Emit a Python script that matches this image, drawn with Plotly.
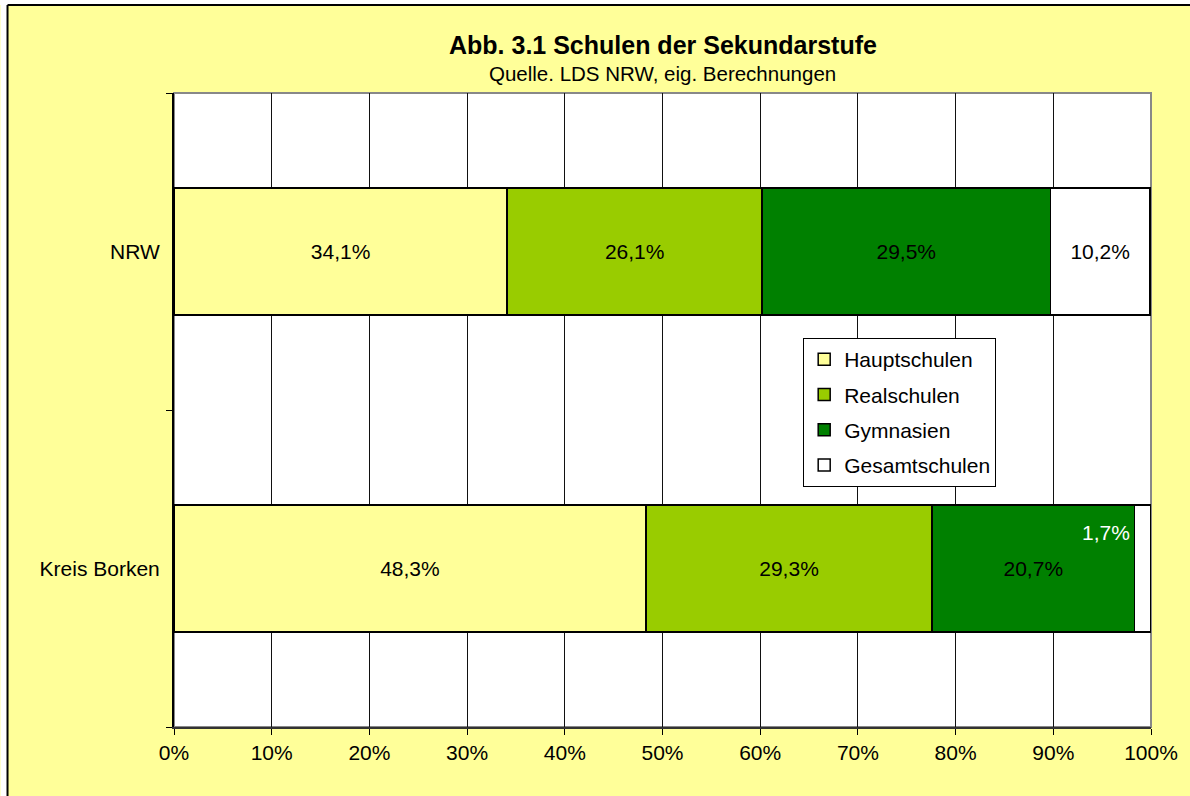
import plotly.graph_objects as go

# data
regions = ["Kreis Borken", "NRW"]
school_types = ["Hauptschulen", "Realschulen", "Gymnasien", "Gesamtschulen"]
share = {
    "Hauptschulen": [48.3, 34.1],
    "Realschulen": [29.3, 26.1],
    "Gymnasien": [20.7, 29.5],
    "Gesamtschulen": [1.7, 10.2],
}
colors = {
    "Hauptschulen": "#FFFF99",
    "Realschulen": "#99CC00",
    "Gymnasien": "#008000",
    "Gesamtschulen": "#FFFFFF",
}


def pct(v):
    return f"{v:.1f}%".replace(".", ",")


fig = go.Figure()
for st in school_types:
    vals = share[st]
    labels = [pct(v) for v in vals]
    if st == "Gesamtschulen":
        labels[0] = ""  # tiny segment, labelled separately
    fig.add_trace(go.Bar(
        y=regions, x=[v / 100 for v in vals], name=st, orientation="h",
        width=0.4, text=labels, textposition="inside", insidetextanchor="middle",
        constraintext="none", textangle=0,
        textfont=dict(color="black", size=21),
        marker=dict(color=colors[st], line=dict(color="black", width=1.5)),
        legendgroup=st,
    ))

# small Gesamtschulen label for Kreis Borken
fig.add_annotation(x=0.954, y="Kreis Borken", yshift=36, text=pct(share["Gesamtschulen"][0]),
                   showarrow=False, font=dict(color="white", size=21))

fig.add_annotation(x=0.5, xref="paper", y=1.076, yref="paper", text="<b>Abb. 3.1 Schulen der Sekundarstufe</b>",
                   showarrow=False, font=dict(size=25, color="black"), yanchor="middle")
fig.add_annotation(x=0.5, xref="paper", y=1.031, yref="paper", text="Quelle. LDS NRW, eig. Berechnungen",
                   showarrow=False, font=dict(size=20.5, color="black"), yanchor="middle")

# outer frame (white strip left/top with black border line)
fig.add_shape(type="rect", xref="paper", yref="paper", x0=-0.1776, x1=-0.1704, y0=-0.2, y1=1.2,
              fillcolor="white", line_width=0)
fig.add_shape(type="rect", xref="paper", yref="paper", x0=-0.2, x1=1.2, y0=1.1388, y1=1.2,
              fillcolor="white", line_width=0)
fig.add_shape(type="line", xref="paper", yref="paper", x0=-0.1704, x1=-0.1704, y0=-0.2, y1=1.1388,
              line=dict(color="black", width=2))
fig.add_shape(type="line", xref="paper", yref="paper", x0=-0.1704, x1=1.2, y0=1.1388, y1=1.1388,
              line=dict(color="black", width=2))
# grey plot-area border (top/right)
fig.add_shape(type="rect", xref="paper", yref="paper", x0=0, x1=1, y0=0, y1=1,
              line=dict(color="#888888", width=2), layer="below")

fig.update_layout(
    barmode="stack",
    width=1190, height=796,
    margin=dict(l=174, r=31, t=93, b=69),
    paper_bgcolor="#FFFF99",
    plot_bgcolor="white",
    font=dict(family="Liberation Sans, Arial, sans-serif", size=21, color="black"),
    showlegend=True,
    legend=dict(
        x=0.644, y=0.6136, xanchor="left", yanchor="top",
        bgcolor="white", bordercolor="black", borderwidth=1,
        traceorder="grouped", tracegroupgap=5,
        font=dict(size=21),
    ),
)
fig.update_xaxes(
    range=[0, 1], dtick=0.1, tick0=0, tickformat=".0%",
    showgrid=True, gridcolor="#111111", gridwidth=1,
    showline=True, linecolor="#333333", linewidth=2,
    ticks="outside", ticklen=6, tickcolor="black",
    zeroline=False, fixedrange=True,
)
fig.update_yaxes(
    categoryorder="array", categoryarray=regions, tickson="boundaries",
    showgrid=False, showline=True, linecolor="black", linewidth=2,
    ticks="outside", ticklen=6, tickcolor="black", ticklabelstandoff=8,
    zeroline=False, fixedrange=True,
)

fig.write_html("out.html", config={"displayModeBar": False},
               post_script="document.body.style.margin='0';")
